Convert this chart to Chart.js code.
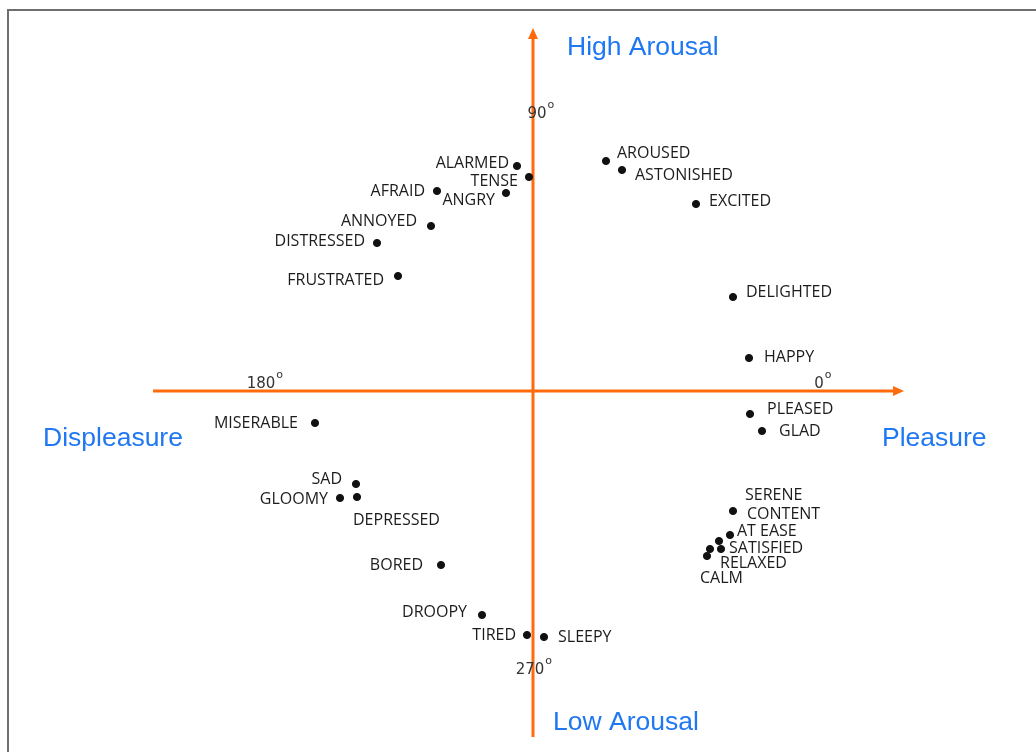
<!DOCTYPE html>
<html>
<head>
<meta charset="utf-8">
<script src="https://cdn.jsdelivr.net/npm/chart.js@4/dist/chart.umd.min.js"></script>
<style>
  html, body { margin: 0; padding: 0; background: #fff; }
  #wrap { position: relative; width: 1036px; height: 752px; }
</style>
</head>
<body>
<div id="wrap"><canvas id="circumplex" width="1036" height="752"></canvas></div>
<script>
// words of the circumplex, with pleasure (x) and arousal (y)
const words = ['ALARMED','TENSE','AFRAID','ANGRY','ANNOYED','DISTRESSED','FRUSTRATED',
  'AROUSED','ASTONISHED','EXCITED','DELIGHTED','HAPPY','PLEASED','GLAD',
  'SERENE','CONTENT','AT EASE','SATISFIED','RELAXED','CALM',
  'MISERABLE','SAD','GLOOMY','DEPRESSED','BORED','DROOPY','TIRED','SLEEPY'];
const pleasure = [-16,-4,-96,-27,-102,-156,-135,
  73,89,163,200,216,217,229,
  200,197,186,188,177,174,
  -218,-177,-193,-176,-92,-51,-6,11];
const arousal = [225,214,200,198,165,148,115,
  230,221,187,94,33,-23,-40,
  -120,-144,-150,-158,-158,-165,
  -32,-93,-107,-106,-174,-224,-244,-246];

const angleTicks = ['0','90','180','270'];
const axisTitles = ['Pleasure','High Arousal','Displeasure','Low Arousal'];

// label placement next to each dot: [dx, dy, align]
const labelPlace = {
  'ALARMED':[-8,-3,'right'], 'TENSE':[-11,4,'right'], 'AFRAID':[-12,0,'right'],
  'ANGRY':[-11,7,'right'], 'ANNOYED':[-14,-5,'right'], 'DISTRESSED':[-12,-2,'right'],
  'FRUSTRATED':[-14,4,'right'], 'AROUSED':[11,-8,'left'], 'ASTONISHED':[13,5,'left'],
  'EXCITED':[13,-3,'left'], 'DELIGHTED':[13,-5,'left'], 'HAPPY':[15,-1,'left'],
  'PLEASED':[17,-5,'left'], 'GLAD':[17,0,'left'], 'SERENE':[12,-16,'left'],
  'CONTENT':[17,-21,'left'], 'AT EASE':[18,-10,'left'], 'SATISFIED':[8,-1,'left'],
  'RELAXED':[10,14,'left'], 'CALM':[-7,22,'left'], 'MISERABLE':[-17,0,'right'],
  'SAD':[-14,-5,'right'], 'GLOOMY':[-12,1,'right'], 'DEPRESSED':[-4,23,'left'],
  'BORED':[-18,0,'right'], 'DROOPY':[-15,-3,'right'], 'TIRED':[-11,0,'right'],
  'SLEEPY':[14,0,'left']
};

const ORANGE = '#ff6a0d';
const BLUE = '#1f78f2';

(()=>{
  const ctx = document.querySelector('#circumplex');

  const axesPlugin = {
    id: 'axesPlugin',
    beforeDatasetsDraw(chart) {
      const c = chart.ctx;
      const sx = chart.scales.x, sy = chart.scales.y;
      const ox = sx.getPixelForValue(0), oy = sy.getPixelForValue(0);
      c.save();
      // frame
      c.strokeStyle = '#6e6e6e';
      c.lineWidth = 2;
      c.beginPath();
      c.moveTo(8, 752); c.lineTo(8, 10); c.lineTo(1036, 10);
      c.stroke();
      // orange axes
      c.strokeStyle = ORANGE;
      c.fillStyle = ORANGE;
      c.lineWidth = 3;
      c.beginPath();
      c.moveTo(sx.getPixelForValue(-380), oy);
      c.lineTo(sx.getPixelForValue(362), oy);
      c.moveTo(ox, sy.getPixelForValue(-346));
      c.lineTo(ox, sy.getPixelForValue(352));
      c.stroke();
      // arrow heads
      const rx = sx.getPixelForValue(371), ty = sy.getPixelForValue(363);
      c.beginPath();
      c.moveTo(rx, oy); c.lineTo(rx - 11, oy - 5); c.lineTo(rx - 11, oy + 5); c.closePath();
      c.fill();
      c.beginPath();
      c.moveTo(ox, ty); c.lineTo(ox - 5, ty + 11); c.lineTo(ox + 5, ty + 11); c.closePath();
      c.fill();

      // degree marks
      c.fillStyle = '#333';
      c.textBaseline = 'middle';
      const deg = [[angleTicks[0], 286, 7], [angleTicks[1], 4, 277], [angleTicks[2], -272, 7], [angleTicks[3], -3, -279]];
      deg.forEach(([t, x, y]) => {
        const px = sx.getPixelForValue(x), py = sy.getPixelForValue(y);
        c.font = '15px "DejaVu Sans", sans-serif';
        c.textAlign = 'center';
        c.fillText(t, px, py);
        const w = c.measureText(t).width;
        c.font = '11px "DejaVu Sans", sans-serif';
        c.textAlign = 'left';
        c.fillText('o', px + w / 2 + 1, py - 9);
      });

      // blue axis titles
      c.fillStyle = BLUE;
      c.font = '26.5px "Liberation Sans", Arial, sans-serif';
      c.textAlign = 'left';
      c.fillText(axisTitles[0], sx.getPixelForValue(349), sy.getPixelForValue(-48));
      c.fillText(axisTitles[1], sx.getPixelForValue(34), sy.getPixelForValue(343));
      c.fillText(axisTitles[2], sx.getPixelForValue(-490), sy.getPixelForValue(-48));
      c.fillText(axisTitles[3], sx.getPixelForValue(20), sy.getPixelForValue(-332));
      c.restore();
    },
    afterDatasetsDraw(chart) {
      const c = chart.ctx;
      const meta = chart.getDatasetMeta(0);
      c.save();
      c.fillStyle = '#1c1c1c';
      c.font = '16px "Open Sans", "DejaVu Sans", sans-serif';
      c.textBaseline = 'middle';
      meta.data.forEach((pt, i) => {
        const p = labelPlace[words[i]] || [10, 0, 'left'];
        c.textAlign = p[2];
        c.fillText(words[i], pt.x + p[0], pt.y + p[1]);
      });
      c.restore();
    }
  };

  new Chart(ctx, {
    type: 'scatter',
    data: {
      datasets: [{
        label: 'Emotions',
        data: words.map((w, i) => ({ x: pleasure[i], y: arousal[i] })),
        backgroundColor: '#111',
        borderColor: '#111',
        pointRadius: 3.6,
        pointHoverRadius: 3.6
      }]
    },
    options: {
      responsive: false,
      animation: false,
      layout: { padding: 0, autoPadding: false },
      plugins: {
        legend: { display: false },
        tooltip: { enabled: false }
      },
      scales: {
        x: { type: 'linear', min: -533, max: 503, display: false },
        y: { type: 'linear', min: -361, max: 391, display: false }
      }
    },
    plugins: [axesPlugin]
  });
})();
</script>
</body>
</html>
